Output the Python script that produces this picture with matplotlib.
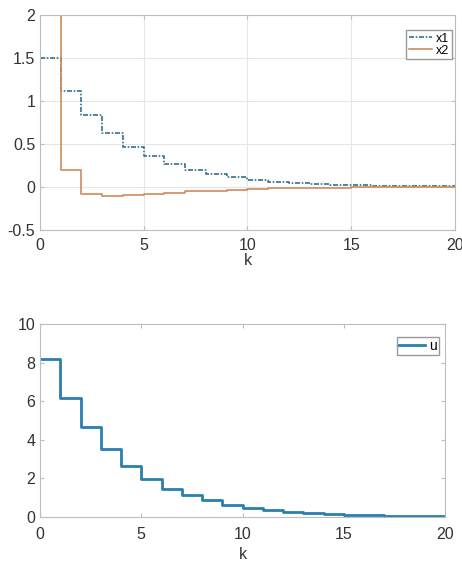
import numpy as np
import matplotlib.pyplot as plt

k = np.arange(0, 21)
x1 = [1.5, 1.12, 0.84, 0.625, 0.47, 0.355, 0.268, 0.196, 0.148, 0.11, 0.08,
      0.056, 0.041, 0.03, 0.022, 0.017, 0.012, 0.009, 0.007, 0.005, 0.004]
x2 = [2.0, 0.2, -0.08, -0.1, -0.09, -0.08, -0.065, -0.052, -0.042, -0.032, -0.024,
      -0.018, -0.013, -0.01, -0.007, -0.005, -0.004, -0.003, -0.002, -0.001, -0.001]
u = [8.17, 6.18, 4.68, 3.52, 2.63, 1.96, 1.47, 1.12, 0.86, 0.64, 0.48,
     0.35, 0.26, 0.19, 0.14, 0.105, 0.08, 0.06, 0.045, 0.035, 0.025]

plt.rcParams['font.family'] = ['Liberation Sans', 'DejaVu Sans']
plt.rcParams['font.size'] = 10

fig = plt.figure(figsize=(4.62, 5.62), dpi=100)
c_blue = '#2a7fae'
c_dash = '#35708f'
c_orange = '#cf8a5e'
edge = '#bdbdbd'
txt = '#333333'

def style(ax, pad, labelpad):
    for s in ax.spines.values():
        s.set_color(edge)
        s.set_linewidth(0.8)
    ax.tick_params(direction='in', length=3, colors=edge, labelcolor=txt, labelsize=11.5,
                   top=True, right=True)
    ax.tick_params(axis='x', pad=pad)
    ax.set_xlim(0, 20)
    ax.set_xticks([0, 5, 10, 15, 20])
    ax.set_xlabel('k', fontsize=11.5, color=txt, labelpad=labelpad)

# top: states
ax1 = fig.add_axes([0.0866, 0.591, 0.898, 0.382])
ax1.step(k, x1, where='post', color=c_dash, lw=1.2, dashes=(3, 1, 1, 1), label='x1')
ax1.step(k, x2, where='post', color=c_orange, lw=1.2, label='x2')
ax1.set_ylim(-0.5, 2)
ax1.set_yticks([-0.5, 0, 0.5, 1, 1.5, 2])
ax1.set_yticklabels(['-0.5', '0', '0.5', '1', '1.5', '2'])
ax1.grid(True, color='#e6e6e6', lw=0.8)
style(ax1, 6.0, 0)
leg1 = ax1.legend(loc='upper right', bbox_to_anchor=(0.993, 0.930), borderaxespad=0,
                  fontsize=9, handlelength=1.9, handletextpad=0.3,
                  borderpad=0.2, labelspacing=0.0, fancybox=False, framealpha=1)
leg1.get_frame().set_edgecolor('#999999')

# bottom: input
ax2 = fig.add_axes([0.0866, 0.080, 0.877, 0.3435])
ax2.step(k, u, where='post', color=c_blue, lw=2.0, label='u')
ax2.set_ylim(0, 10)
ax2.set_yticks([0, 2, 4, 6, 8, 10])
style(ax2, 7.5, 3)
leg2 = ax2.legend(loc='upper right', bbox_to_anchor=(0.985, 0.933), borderaxespad=0,
                  fontsize=10, handlelength=1.9, handletextpad=0.3,
                  borderpad=0.15, fancybox=False, framealpha=1)
leg2.get_frame().set_edgecolor('#999999')

fig.savefig('out.png', dpi=100)
